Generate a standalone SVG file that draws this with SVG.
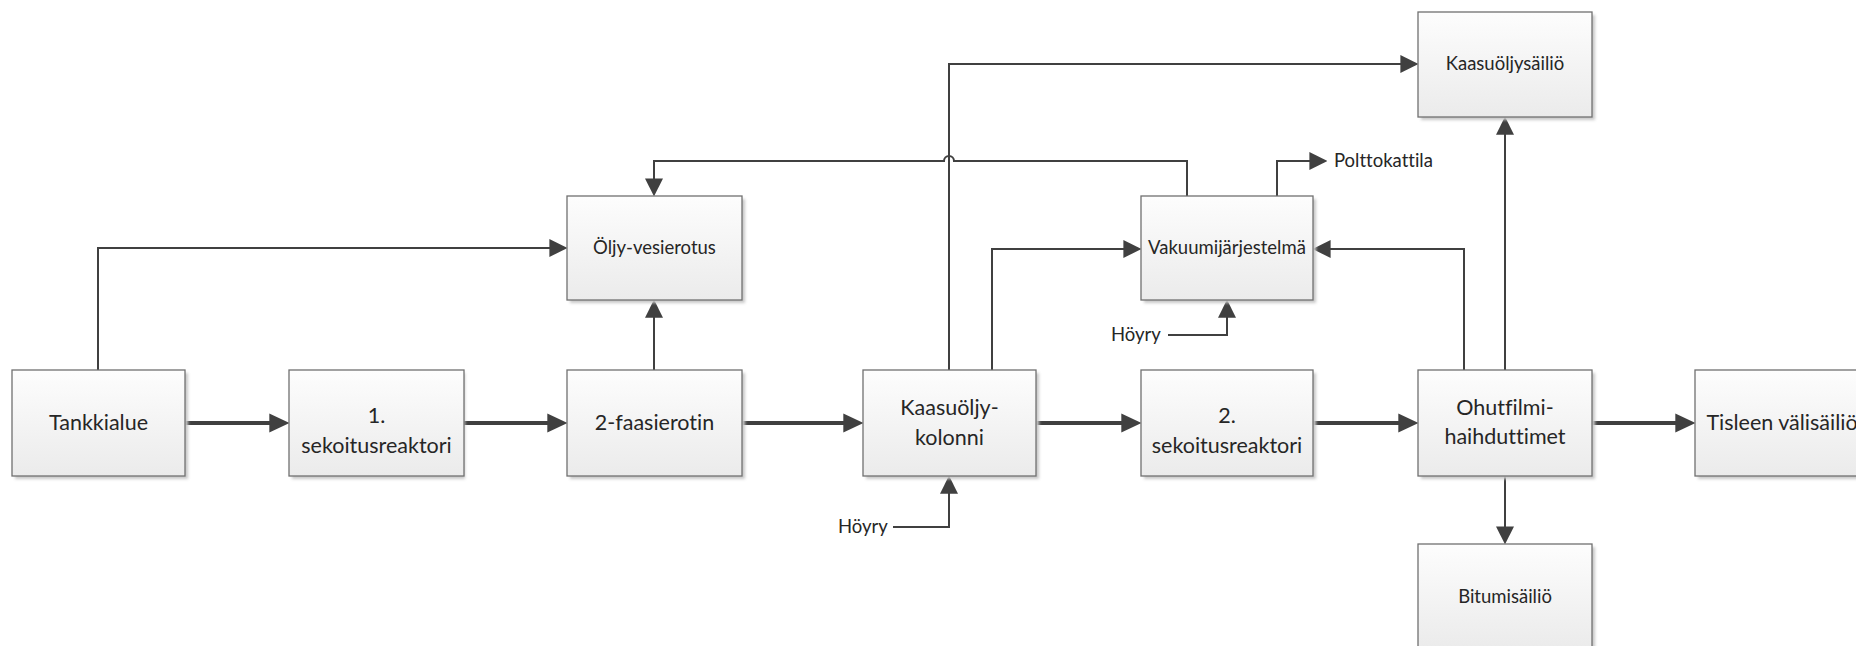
<svg xmlns="http://www.w3.org/2000/svg" width="1856" height="646" viewBox="0 0 1856 646">
  <style>
    text { font-family: Lato, "Liberation Sans", sans-serif; fill: #262626; font-variant-ligatures: none; }
    .box { fill: url(#boxFill); stroke: #707070; stroke-width: 1.3; }
    .shadow { fill: #c8c8c8; filter: url(#soft); }
    .big { font-size: 21.5px; text-anchor: middle; }
    .small { font-size: 18.5px; text-anchor: middle; }
    .lbl { font-size: 18.5px; }
    .main { fill: none; stroke: #404040; stroke-width: 4; marker-end: url(#headBig); }
    .thin { fill: none; stroke: #404040; stroke-width: 2; marker-end: url(#headSmall); }
  </style>
  <defs>
    <linearGradient id="boxFill" x1="0" y1="0" x2="0" y2="1">
      <stop offset="0" stop-color="#fdfdfd"/>
      <stop offset="1" stop-color="#ebebeb"/>
    </linearGradient>
    <filter id="soft" x="-10%" y="-10%" width="120%" height="120%">
      <feGaussianBlur stdDeviation="1.5"/>
    </filter>
    <marker id="headBig" markerUnits="userSpaceOnUse" markerWidth="20" markerHeight="20" viewBox="0 0 19 18" refX="13" refY="9" orient="auto">
      <path d="M0 0 L19 9 L0 18 Z" fill="#404040"/>
    </marker>
    <marker id="headSmall" markerUnits="userSpaceOnUse" markerWidth="18" markerHeight="18" viewBox="0 0 16 16" refX="13" refY="8" orient="auto">
      <path d="M0 0 L16 8 L0 16 Z" fill="#404040"/>
    </marker>
  </defs>

  <!-- connectors -->
  <g id="connectors">
    <path class="main" d="M185 423 H283"/>
    <path class="main" d="M464 423 H561"/>
    <path class="main" d="M742 423 H857"/>
    <path class="main" d="M1036 423 H1135"/>
    <path class="main" d="M1313 423 H1412"/>
    <path class="main" d="M1592 423 H1689"/>

    <path class="thin" d="M98 370 V248 H564"/>
    <path class="thin" d="M654 370 V303"/>
    <path class="thin" d="M949 370 V64 H1415"/>
    <path class="thin" d="M992 370 V249 H1138"/>
    <path class="thin" d="M893 527 H949 V479"/>
    <path class="thin" d="M1187 196 V161 H954 a5 5 0 0 0 -10 0 H654 V193"/>
    <path class="thin" d="M1277 196 V161 H1324"/>
    <path class="thin" d="M1168 335 H1227 V303"/>
    <path class="thin" d="M1464 370 V249 H1316"/>
    <path class="thin" d="M1505 370 V120"/>
    <path class="thin" d="M1505 476 V541"/>
  </g>

  <!-- free labels on the connectors -->
  <g id="labels">
    <text class="lbl" x="838" y="533">Höyry</text>
    <text class="lbl" x="1111" y="341">Höyry</text>
    <text class="lbl" x="1334" y="167">Polttokattila</text>
  </g>

  <g id="tankkialue">
    <rect class="shadow" x="15" y="373" width="173" height="106"/>
    <rect class="box" x="12" y="370" width="173" height="106"/>
    <text class="big" x="98.5" y="430">Tankkialue</text>
  </g>

  <g id="sekoitusreaktori-1">
    <rect class="shadow" x="292" y="373" width="173" height="106"/>
    <rect class="box" x="289" y="370" width="175" height="106"/>
    <text class="big" x="376.5" y="423">1.</text>
    <text class="big" x="376.5" y="453">sekoitusreaktori</text>
  </g>

  <g id="faasierotin">
    <rect class="shadow" x="570" y="373" width="175" height="106"/>
    <rect class="box" x="567" y="370" width="175" height="106"/>
    <text class="big" x="654.5" y="430">2-faasierotin</text>
  </g>

  <g id="oljy-vesierotus">
    <rect class="shadow" x="570" y="199" width="175" height="104"/>
    <rect class="box" x="567" y="196" width="175" height="104"/>
    <text class="small" x="654.5" y="254">Öljy-vesierotus</text>
  </g>

  <g id="kaasuoljykolonni">
    <rect class="shadow" x="866" y="373" width="173" height="106"/>
    <rect class="box" x="863" y="370" width="173" height="106"/>
    <text class="big" x="949.5" y="415">Kaasuöljy-</text>
    <text class="big" x="949.5" y="445">kolonni</text>
  </g>

  <g id="sekoitusreaktori-2">
    <rect class="shadow" x="1144" y="373" width="172" height="106"/>
    <rect class="box" x="1141" y="370" width="172" height="106"/>
    <text class="big" x="1227" y="423">2.</text>
    <text class="big" x="1227" y="453">sekoitusreaktori</text>
  </g>

  <g id="vakuumijarjestelma">
    <rect class="shadow" x="1144" y="199" width="172" height="104"/>
    <rect class="box" x="1141" y="196" width="172" height="104"/>
    <text class="small" x="1227" y="254">Vakuumijärjestelmä</text>
  </g>

  <g id="ohutfilmihaihduttimet">
    <rect class="shadow" x="1421" y="373" width="174" height="106"/>
    <rect class="box" x="1418" y="370" width="174" height="106"/>
    <text class="big" x="1505" y="415">Ohutfilmi-</text>
    <text class="big" x="1505" y="444">haihduttimet</text>
  </g>

  <g id="kaasuoljysailio">
    <rect class="shadow" x="1421" y="15" width="174" height="105"/>
    <rect class="box" x="1418" y="12" width="174" height="105"/>
    <text class="small" x="1505" y="70">Kaasuöljysäiliö</text>
  </g>

  <g id="bitumisailio">
    <rect class="shadow" x="1421" y="547" width="174" height="105"/>
    <rect class="box" x="1418" y="544" width="174" height="105"/>
    <text class="small" x="1505" y="603">Bitumisäiliö</text>
  </g>

  <g id="tisleen-valisailio">
    <rect class="shadow" x="1698" y="373" width="174" height="106"/>
    <rect class="box" x="1695" y="370" width="174" height="106"/>
    <text class="big" x="1782" y="430">Tisleen välisäiliö</text>
  </g>
</svg>
